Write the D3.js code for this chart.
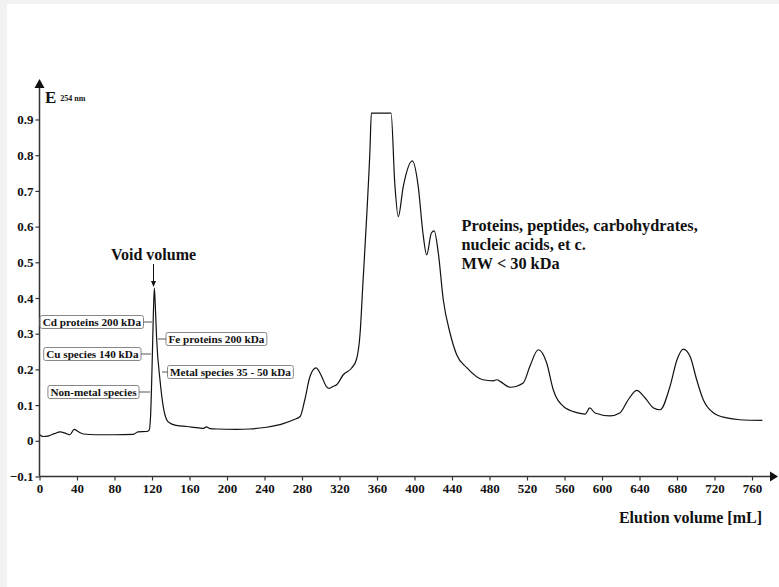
<!DOCTYPE html>
<html>
<head>
<meta charset="utf-8">
<script src="https://cdn.jsdelivr.net/npm/d3@7/dist/d3.min.js"></script>
<style>
  html, body { margin: 0; padding: 0; background: #f2f2f2; }
  svg { display: block; }
  text { font-family: "Liberation Serif", "Times New Roman", serif; font-weight: bold; fill: #111; }
</style>
</head>
<body>
<svg id="chart" width="779" height="587"></svg>
<script>
// ---- data ----
const elutionVolume = [0, 4, 10, 16, 22, 28, 32.5, 37, 41, 47, 60, 80, 100, 105, 114, 117, 118.5, 120, 121.5, 122.5, 123.5, 125, 128.5, 132, 135.7, 139, 146, 157, 170, 175, 178, 181, 189, 210, 224, 242, 260, 271, 278, 283, 288.5, 295, 301, 306, 309, 313, 317, 324, 333, 338, 342, 345, 349, 352.5, 354, 375, 379, 382.7, 388, 397.7, 404, 409, 413, 418, 421, 425.4, 430.7, 437.9, 445, 455.7, 473, 484, 488, 492, 502, 516, 523, 532, 541, 548, 559, 573, 582, 587, 592.5, 608.5, 619, 628, 637, 646, 655, 662, 672.5, 680, 686.7, 694, 701, 708, 719, 733, 747, 771];
const absorbance = [0.017, 0.012, 0.014, 0.02, 0.025, 0.021, 0.017, 0.032, 0.026, 0.019, 0.017, 0.017, 0.018, 0.025, 0.026, 0.03, 0.07, 0.2, 0.36, 0.428, 0.38, 0.283, 0.171, 0.096, 0.059, 0.05, 0.043, 0.04, 0.036, 0.035, 0.039, 0.035, 0.033, 0.032, 0.033, 0.038, 0.048, 0.059, 0.068, 0.115, 0.18, 0.204, 0.18, 0.152, 0.147, 0.152, 0.157, 0.185, 0.204, 0.227, 0.302, 0.442, 0.628, 0.815, 0.918, 0.918, 0.72, 0.628, 0.712, 0.784, 0.712, 0.582, 0.521, 0.582, 0.588, 0.526, 0.395, 0.302, 0.241, 0.205, 0.171, 0.168, 0.171, 0.165, 0.15, 0.162, 0.208, 0.255, 0.218, 0.143, 0.096, 0.079, 0.075, 0.092, 0.078, 0.07, 0.078, 0.115, 0.141, 0.12, 0.092, 0.087, 0.152, 0.227, 0.257, 0.236, 0.171, 0.115, 0.078, 0.064, 0.059, 0.057];
const xTicks = [0, 40, 80, 120, 160, 200, 240, 280, 320, 360, 400, 440, 480, 520, 560, 600, 640, 680, 720, 760];
const yTicks = [-0.1, 0, 0.1, 0.2, 0.3, 0.4, 0.5, 0.6, 0.7, 0.8, 0.9];
const leftLabels = ["Cd proteins 200 kDa", "Cu species 140 kDa", "Non-metal species"];
const rightLabels = ["Fe proteins 200 kDa", "Metal species 35 - 50 kDa"];
const regionLabel = ["Proteins, peptides, carbohydrates,", "nucleic acids, et c.", "MW < 30 kDa"];

// ---- layout ----
const svg = d3.select("#chart");
svg.append("rect").attr("x", 7).attr("y", 4).attr("width", 772).attr("height", 583).attr("fill", "#fff");

const x = d3.scaleLinear().domain([0, 760]).range([39.5, 752]);
const y = d3.scaleLinear().domain([-0.1, 0.9]).range([476.5, 119.5]);
const axisColor = "#333";
const serif = "Liberation Serif, Times New Roman, serif";

// x axis
const gx = svg.append("g").attr("transform", `translate(0,${y(-0.1)})`)
  .call(d3.axisBottom(x).tickValues(xTicks).tickSize(4).tickPadding(3).tickFormat(d3.format("d")));
gx.select(".domain").remove();
gx.selectAll(".tick line").attr("stroke", axisColor).attr("stroke-width", 1.2);
gx.selectAll(".tick text").style("font-size", "13px").style("font-family", serif).style("font-weight", "bold").attr("fill", "#111");

// y axis
const gy = svg.append("g").attr("transform", `translate(${x(0)},0)`)
  .call(d3.axisLeft(y).tickValues(yTicks).tickSize(4).tickPadding(2).tickFormat(d => d === 0 ? "0" : d3.format(".1f")(d)));
gy.select(".domain").remove();
gy.selectAll(".tick line").attr("stroke", axisColor).attr("stroke-width", 1.2);
gy.selectAll(".tick text").style("font-size", "13px").style("font-family", serif).style("font-weight", "bold").attr("fill", "#111");

// axis lines with arrows
svg.append("line").attr("x1", x(0)).attr("x2", 772).attr("y1", y(-0.1)).attr("y2", y(-0.1))
  .attr("stroke", axisColor).attr("stroke-width", 1.5);
svg.append("path").attr("d", `M770,${y(-0.1) - 5} L778,${y(-0.1)} L770,${y(-0.1) + 5} Z`).attr("fill", "#111");
svg.append("line").attr("x1", x(0)).attr("x2", x(0)).attr("y1", y(-0.1)).attr("y2", 86)
  .attr("stroke", axisColor).attr("stroke-width", 1.5);
svg.append("path").attr("d", `M${x(0) - 5},88 L${x(0)},79 L${x(0) + 5},88 Z`).attr("fill", "#111");

// axis titles
const eLabel = svg.append("text").attr("x", 45).attr("y", 103).style("font-size", "17px");
eLabel.append("tspan").text("E");
eLabel.append("tspan").attr("dx", 4).attr("dy", -2).style("font-size", "8px").text("254 nm");
svg.append("text").attr("x", 762).attr("y", 523).attr("text-anchor", "end").style("font-size", "16px").text("Elution volume [mL]");

// curve
const pts = elutionVolume.map((v, i) => [v, absorbance[i]]);
const line = d3.line().x(d => x(d[0])).y(d => y(d[1])).curve(d3.curveMonotoneX);
svg.append("path").datum(pts).attr("d", line).attr("fill", "none").attr("stroke", "#111").attr("stroke-width", 1.2);

// void volume
svg.append("text").attr("x", 153.5).attr("y", 260).attr("text-anchor", "middle").style("font-size", "16px").text("Void volume");
svg.append("line").attr("x1", 153.5).attr("x2", 153.5).attr("y1", 264).attr("y2", 282).attr("stroke", "#111").attr("stroke-width", 1);
svg.append("path").attr("d", "M151,281 L153.5,287 L156,281 Z").attr("fill", "#111");

// boxed labels
function boxLabel(text, anchorX, cy, side, connectTo) {
  const g = svg.append("g");
  const t = g.append("text").attr("y", cy + 3.8).style("font-size", "11.2px").text(text);
  const w = t.node().getComputedTextLength();
  const bw = w + 5, bh = 13;
  const bx = side === "left" ? anchorX - bw : anchorX;
  t.attr("x", bx + 2.5);
  g.insert("rect", "text").attr("x", bx).attr("y", cy - bh / 2).attr("width", bw).attr("height", bh)
    .attr("rx", 2).attr("fill", "#fff").attr("stroke", "#888").attr("stroke-width", 1);
  g.append("line").attr("x1", side === "left" ? anchorX : connectTo).attr("x2", side === "left" ? connectTo : anchorX)
    .attr("y1", cy).attr("y2", cy).attr("stroke", "#555").attr("stroke-width", 1);
}
boxLabel(leftLabels[0], 143.5, 322, "left", 152);
boxLabel(leftLabels[1], 141, 354, "left", 151);
boxLabel(leftLabels[2], 139, 392, "left", 150);
boxLabel(rightLabels[0], 166, 339, "right", 158);
boxLabel(rightLabels[1], 167.5, 372, "right", 162);

// region label
const rl = svg.append("text").attr("x", 461.5).attr("y", 231).style("font-size", "16.3px");
regionLabel.forEach((s, i) => rl.append("tspan").attr("x", 461.5).attr("dy", i === 0 ? 0 : 19).text(s));
</script>
</body>
</html>
